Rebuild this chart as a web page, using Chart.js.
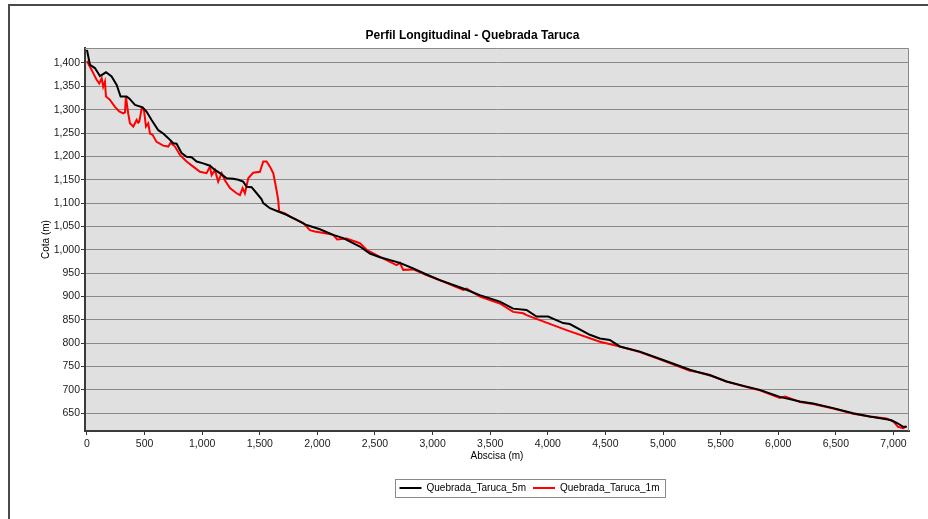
<!DOCTYPE html>
<html>
<head>
<meta charset="utf-8">
<title>Perfil Longitudinal - Quebrada Taruca</title>
<script src="https://cdn.jsdelivr.net/npm/chart.js@4.4.0/dist/chart.umd.min.js"></script>
<style>
  html, body { margin: 0; padding: 0; background: #fff; }
  #wrap { width: 928px; height: 519px; }
</style>
</head>
<body>
<div id="wrap"><canvas id="perfilChart" width="928" height="519"></canvas></div>
<script>
// abscisa (m) / cota (m)
const abscisa5m = [0, 26, 69, 113, 165, 214, 258, 292, 344, 367, 417, 483, 517, 561, 619, 662, 706, 749, 778, 821,
    865, 908, 952, 1009, 1067, 1111, 1154, 1212, 1270, 1313, 1356, 1386, 1429, 1473, 1516, 1530, 1588, 1660, 1732, 1820,
    1906, 2022, 2137, 2224, 2369, 2456, 2543, 2716, 2832, 2947, 3063, 3266, 3410, 3584, 3699, 3815, 3902, 4003, 4133, 4191,
    4365, 4452, 4538, 4625, 4799, 5001, 5233, 5291, 5406, 5551, 5725, 5840, 6014, 6188, 6303, 6477, 6650, 6794, 6939, 6982,
    7040, 7084, 7114];
const cota5m = [1428, 1396, 1389, 1372, 1380, 1371, 1353, 1328, 1328, 1324, 1310, 1305, 1296, 1278, 1256, 1249, 1239, 1228, 1227, 1207,
    1199, 1198, 1189, 1185, 1180, 1171, 1164, 1153, 1152, 1150, 1146, 1135, 1134, 1121, 1108, 1100, 1089, 1082, 1075, 1064,
    1053, 1044, 1032, 1025, 1007, 992, 984, 972, 960, 947, 935, 917, 903, 889, 874, 871, 857, 857, 843, 841,
    818, 810, 807, 793, 782, 764, 743, 739, 732, 718, 707, 700, 685, 675, 671, 661, 650, 643, 637, 635,
    628, 621, 621];

const abscisa1m = [0, 11, 41, 63, 84, 107, 128, 141, 156, 165, 200, 243, 280, 315, 330, 338, 358, 373, 402, 431,
    445, 454, 475, 495, 512, 532, 547, 570, 604, 662, 706, 726, 764, 807, 865, 922, 981, 1038, 1067, 1082,
    1111, 1139, 1169, 1197, 1241, 1299, 1328, 1351, 1371, 1400, 1443, 1501, 1530, 1559, 1588, 1617, 1640, 1660, 1668, 1718,
    1762, 1877, 1935, 1978, 2080, 2137, 2172, 2253, 2369, 2427, 2543, 2687, 2716, 2745, 2832, 2947, 3092, 3266, 3295, 3410,
    3584, 3699, 3786, 3815, 4162, 4452, 4625, 4799, 5001, 5233, 5291, 5406, 5551, 5725, 5840, 6014, 6060, 6188, 6303, 6477,
    6650, 6794, 6939, 7000, 7040, 7084, 7114];
const cota1m = [1404, 1399, 1385, 1374, 1364, 1356, 1367, 1349, 1360, 1328, 1321, 1306, 1296, 1292, 1294, 1328, 1292, 1271, 1264, 1278,
    1272, 1274, 1303, 1299, 1264, 1271, 1249, 1246, 1231, 1223, 1221, 1229, 1221, 1203, 1189, 1178, 1167, 1164, 1178, 1160,
    1171, 1146, 1164, 1149, 1132, 1121, 1117, 1132, 1121, 1153, 1165, 1167, 1189, 1189, 1178, 1164, 1135, 1107, 1082, 1078,
    1071, 1057, 1042, 1039, 1035, 1032, 1022, 1024, 1014, 1000, 985, 967, 972, 957, 958, 946, 932, 914, 917, 900,
    885, 867, 864, 860, 828, 803, 793, 781, 763, 741, 739, 731, 718, 706, 699, 683, 686, 674, 670, 660,
    649, 643, 639, 632, 621, 618, 622];

const xTicks = [0, 500, 1000, 1500, 2000, 2500, 3000, 3500, 4000, 4500, 5000, 5500, 6000, 6500, 7000];
const yTicks = [650, 700, 750, 800, 850, 900, 950, 1000, 1050, 1100, 1150, 1200, 1250, 1300, 1350, 1400];

const seriesNames = ['Quebrada_Taruca_5m', 'Quebrada_Taruca_1m'];
const fontFamily = '"Liberation Sans", Arial, sans-serif';

const toPoints = function (xs, ys) {
    return xs.map(function (x, i) { return { x: x, y: ys[i] }; });
};

// white page, outer frame, grey plot area
const chartFrame = {
    id: 'chartFrame',
    beforeDraw: function (chart) {
        const ctx = chart.ctx;
        const a = chart.chartArea;
        ctx.save();
        ctx.fillStyle = '#ffffff';
        ctx.fillRect(0, 0, chart.width, chart.height);
        ctx.strokeStyle = '#4a4a4a';
        ctx.lineWidth = 2;
        ctx.beginPath();
        ctx.moveTo(9, chart.height);
        ctx.lineTo(9, 5);
        ctx.lineTo(chart.width, 5);
        ctx.stroke();
        ctx.fillStyle = '#e0e0e0';
        ctx.fillRect(a.left, a.top, a.right - a.left, a.bottom - a.top);
        ctx.restore();
    },
    beforeDatasetsDraw: function (chart) {
        const ctx = chart.ctx;
        const a = chart.chartArea;
        ctx.save();
        ctx.strokeStyle = '#8a8a8a';
        ctx.lineWidth = 1;
        ctx.beginPath();
        ctx.moveTo(a.left, a.top + 0.5);
        ctx.lineTo(a.right - 0.5, a.top + 0.5);
        ctx.lineTo(a.right - 0.5, a.bottom);
        ctx.stroke();
        ctx.restore();
    },
    afterLayout: function (chart) {
        // legend sits right of centre, title a little too
        const lg = chart.legend;
        lg.left += 75;
        lg.right += 75;
        const tb = chart.titleBlock;
        tb.left += 18;
        tb.right += 18;
    },
    afterDraw: function (chart) {
        const lg = chart.legend;
        if (!lg || !lg.lineWidths) return;
        const pad = lg.options.labels.padding;
        const lw = lg.lineWidths[0];
        const x0 = (lg.left + pad + lg.right - lw) / 2;
        const x1 = x0 + lw - pad;
        const cy = lg.top + pad + 5;
        const ctx = chart.ctx;
        ctx.save();
        ctx.strokeStyle = '#8a8a8a';
        ctx.lineWidth = 1;
        ctx.strokeRect(Math.round(x0 - 4) + 0.5, Math.round(cy - 9) + 0.5, Math.round(x1 - x0 + 10), 18);
        ctx.restore();
    }
};

new Chart(document.getElementById('perfilChart'), {
    type: 'line',
    data: {
        datasets: [{
            label: seriesNames[0],
            data: toPoints(abscisa5m, cota5m),
            borderColor: '#000000',
            backgroundColor: '#000000',
            borderWidth: 2,
            pointRadius: 0,
            tension: 0
        }, {
            label: seriesNames[1],
            data: toPoints(abscisa1m, cota1m),
            borderColor: '#ff0000',
            backgroundColor: '#ff0000',
            borderWidth: 2,
            pointRadius: 0,
            tension: 0
        }]
    },
    options: {
        responsive: false,
        animation: false,
        layout: { padding: { left: 0, right: 19, top: 0, bottom: 16 } },
        plugins: {
            title: {
                display: true,
                text: 'Perfil Longitudinal - Quebrada Taruca',
                color: '#000',
                font: { family: fontFamily, size: 12, weight: 'bold' },
                padding: { top: 28, bottom: 5.6 }
            },
            legend: {
                display: true,
                position: 'bottom',
                labels: {
                    color: '#000',
                    font: { family: fontFamily, size: 10 },
                    usePointStyle: true,
                    pointStyle: 'line',
                    pointStyleWidth: 22,
                    padding: 7
                }
            },
            tooltip: { enabled: false }
        },
        scales: {
            x: {
                type: 'linear',
                min: -17,
                max: 7135,
                afterFit: function (scale) { scale.height = 45; },
                afterBuildTicks: function (scale) {
                    scale.ticks = xTicks.map(function (v) { return { value: v }; });
                },
                ticks: {
                    color: '#1a1a1a',
                    font: { family: fontFamily, size: 10.5 },
                    padding: 3,
                    maxRotation: 0,
                    autoSkip: false
                },
                grid: { drawOnChartArea: false, drawTicks: true, tickLength: 4, tickColor: '#333', tickWidth: 1 },
                border: { color: '#3a3a3a', width: 2 },
                title: {
                    display: true,
                    text: 'Abscisa (m)',
                    color: '#000',
                    font: { family: fontFamily, size: 10 },
                    padding: { top: 0, bottom: 14 }
                }
            },
            y: {
                type: 'linear',
                min: 612,
                max: 1432,
                afterFit: function (scale) { scale.width = 85; },
                afterBuildTicks: function (scale) {
                    scale.ticks = yTicks.map(function (v) { return { value: v }; });
                },
                ticks: {
                    color: '#1a1a1a',
                    font: { family: fontFamily, size: 10.5 },
                    padding: 1,
                    autoSkip: false
                },
                grid: { color: '#8a8a8a', lineWidth: 1, drawTicks: true, tickLength: 4, tickColor: '#333' },
                border: { color: '#3a3a3a', width: 2 },
                title: {
                    display: true,
                    text: 'Cota (m)',
                    color: '#000',
                    font: { family: fontFamily, size: 10 },
                    padding: { top: 40, bottom: 0 }
                }
            }
        }
    },
    plugins: [chartFrame]
});
</script>
</body>
</html>
